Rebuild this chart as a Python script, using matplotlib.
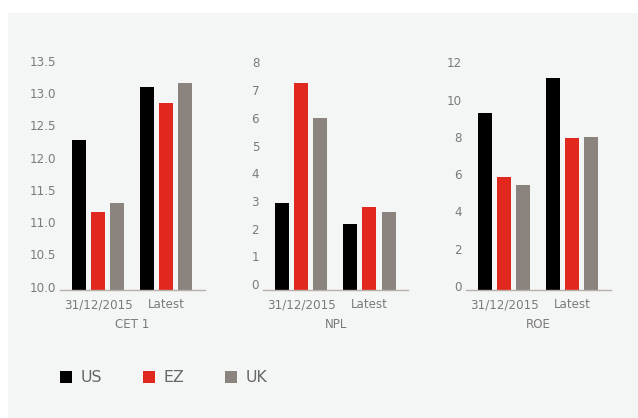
import matplotlib
matplotlib.use("Agg")
import matplotlib.pyplot as plt
import numpy as np
from matplotlib.patches import Rectangle
from matplotlib.transforms import ScaledTranslation

# Bank health indicators, three regions
periods = ["31/12/2015", "Latest"]
regions = ["US", "EZ", "UK"]

cet1_us = [12.33, 13.14]
cet1_ez = [11.21, 12.90]
cet1_uk = [11.35, 13.21]

npl_us = [3.14, 2.38]
npl_ez = [7.47, 3.00]
npl_uk = [6.21, 2.82]

roe_us = [9.50, 11.36]
roe_ez = [6.06, 8.15]
roe_uk = [5.63, 8.21]

colors = ["#000000", "#e0281e", "#8b847e"]
bg = "#f4f5f5"
tick_col = "#7a7a7a"

panels = [
    ("CET 1", [cet1_us, cet1_ez, cet1_uk], (10, 13.5), np.arange(10, 13.51, 0.5), "{:.1f}", 3.3),
    ("NPL", [npl_us, npl_ez, npl_uk], (0, 8.16), np.arange(0, 9, 1), "{:.0f}", 6),
    ("ROE", [roe_us, roe_ez, roe_uk], (0, 12.12), np.arange(0, 13, 2), "{:.0f}", 4),
]

W, H = 638, 418
fig = plt.figure(figsize=(W / 100, H / 100), dpi=100)
fig.patch.set_facecolor("white")
fig.patches.append(Rectangle((8 / W, 0), 1 - 8 / W, 1 - 13 / H,
                             transform=fig.transFigure, facecolor=bg,
                             edgecolor="none", zorder=-5))

lefts = [60, 263.3, 466]
x = np.arange(len(periods))
offsets = [-0.28, 0, 0.28]
bar_w = 0.206
handles = []
for left, (title, series, ylim, ticks, fmt, dy) in zip(lefts, panels):
    ax = fig.add_axes([left / W, 1 - 290 / H, 145 / W, 226 / H])
    ax.set_facecolor("none")
    for vals, off, c, name in zip(series, offsets, colors, regions):
        b = ax.bar(x + off, vals, bar_w, color=c, label=name)
        if left == lefts[0]:
            handles.append(b)
    ax.set_xlim(-0.557, 1.57)
    ax.set_ylim(*ylim)
    ax.set_yticks(ticks)
    ax.set_yticklabels([fmt.format(t) for t in ticks])
    ax.set_xticks(x)
    ax.set_xticklabels(periods)
    for s in ["top", "right", "left"]:
        ax.spines[s].set_visible(False)
    ax.spines["bottom"].set_color("#b8b1aa")
    ax.spines["bottom"].set_linewidth(1.0)
    ax.tick_params(axis="both", length=0, colors=tick_col, labelsize=8.6)
    ax.tick_params(axis="y", pad=3)
    ax.tick_params(axis="x", pad=6)
    for lab in ax.get_yticklabels():
        lab.set_transform(lab.get_transform() + ScaledTranslation(0, dy / 100, fig.dpi_scale_trans))
    ax.set_xlabel(title, color=tick_col, fontsize=8.6, labelpad=4.5)

fig.legend(handles=handles, labels=regions, loc="center left",
           bbox_to_anchor=(60 / W, 1 - 378 / H), ncol=3, frameon=False,
           fontsize=11.3, labelcolor="#666666", handlelength=0.77,
           handleheight=0.77, handletextpad=0.55, columnspacing=2.6,
           borderaxespad=0, borderpad=0)

fig.savefig("out.png", dpi=100, facecolor=fig.get_facecolor())
